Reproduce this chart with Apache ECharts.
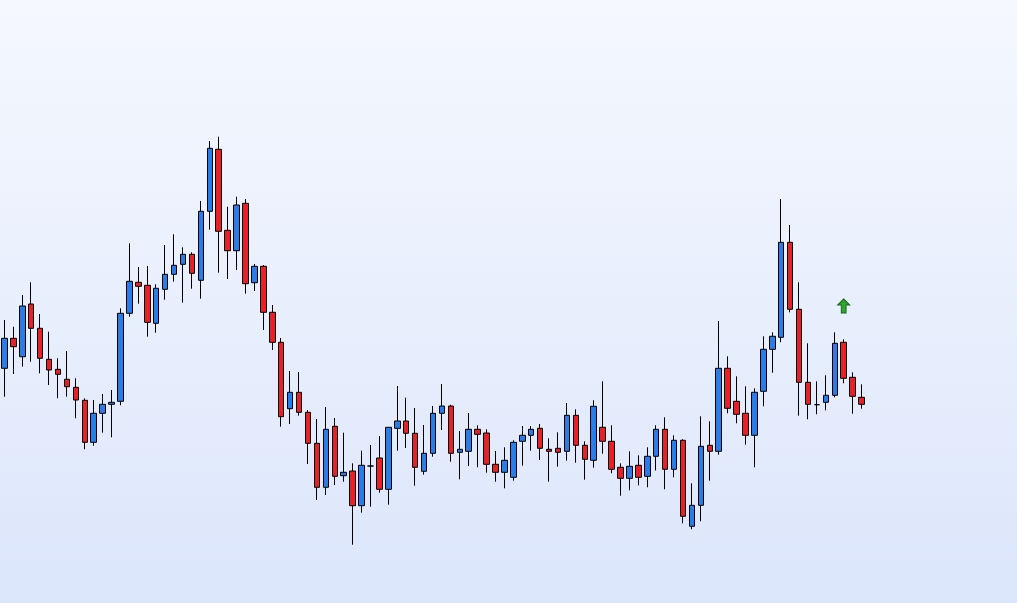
<!DOCTYPE html>
<html>
<head>
<meta charset="utf-8">
<script src="https://cdn.jsdelivr.net/npm/echarts@6/dist/echarts.min.js"></script>
<style>
html,body{margin:0;padding:0;width:1017px;height:603px;overflow:hidden;}
#chart{width:1017px;height:603px;}
</style>
</head>
<body>
<div id="chart"></div>
<script>
// [open, close, low, high]
const candles = [
[1.19317,1.19617,1.19033,1.19800],
[1.19617,1.19533,1.19260,1.19733],
[1.19433,1.19940,1.19333,1.20050],
[1.19960,1.19717,1.19383,1.20177],
[1.19717,1.19417,1.19267,1.19860],
[1.19407,1.19300,1.19150,1.19683],
[1.19307,1.19257,1.19017,1.19417],
[1.19207,1.19133,1.19033,1.19490],
[1.19127,1.19000,1.18817,1.19217],
[1.18997,1.18577,1.18507,1.19017],
[1.18577,1.18867,1.18543,1.19000],
[1.18867,1.18957,1.18673,1.19060],
[1.18957,1.18977,1.18627,1.19100],
[1.18987,1.19867,1.18947,1.19917],
[1.19867,1.20187,1.19833,1.20567],
[1.20177,1.20137,1.19963,1.20330],
[1.20147,1.19777,1.19633,1.20340],
[1.19767,1.20117,1.19673,1.20157],
[1.20107,1.20257,1.20003,1.20550],
[1.20257,1.20347,1.20183,1.20657],
[1.20357,1.20457,1.19973,1.20527],
[1.20457,1.20267,1.20113,1.20477],
[1.20197,1.20887,1.20013,1.20990],
[1.20887,1.21517,1.20703,1.21590],
[1.21507,1.20687,1.20273,1.21633],
[1.20697,1.20493,1.20210,1.20933],
[1.20493,1.20950,1.20300,1.21033],
[1.20967,1.20163,1.20063,1.21010],
[1.20173,1.20337,1.20090,1.20360],
[1.20337,1.19877,1.19700,1.20350],
[1.19877,1.19577,1.19500,1.19950],
[1.19577,1.18833,1.18733,1.19620],
[1.18913,1.19077,1.18760,1.19290],
[1.19077,1.18877,1.18843,1.19280],
[1.18877,1.18567,1.18360,1.18900],
[1.18567,1.18127,1.18000,1.18810],
[1.18127,1.18707,1.18050,1.18930],
[1.18737,1.18237,1.18150,1.18820],
[1.18243,1.18277,1.18183,1.18673],
[1.18290,1.17943,1.17553,1.18367],
[1.17943,1.18347,1.17873,1.18493],
[1.18340,1.18340,1.17933,1.18550],
[1.18420,1.18107,1.18073,1.18640],
[1.18107,1.18727,1.17953,1.18727],
[1.18717,1.18790,1.18493,1.19140],
[1.18790,1.18667,1.18520,1.19023],
[1.18667,1.18327,1.18143,1.18920],
[1.18287,1.18467,1.18253,1.18750],
[1.18467,1.18867,1.18433,1.18940],
[1.18867,1.18940,1.18700,1.19160],
[1.18940,1.18467,1.18383,1.18953],
[1.18477,1.18507,1.18207,1.18690],
[1.18487,1.18707,1.18340,1.18870],
[1.18707,1.18657,1.18327,1.18747],
[1.18670,1.18357,1.18273,1.18707],
[1.18357,1.18277,1.18183,1.18490],
[1.18277,1.18397,1.18117,1.18527],
[1.18227,1.18577,1.18193,1.18597],
[1.18587,1.18647,1.18343,1.18740],
[1.18647,1.18707,1.18493,1.18740],
[1.18717,1.18517,1.18400,1.18760],
[1.18507,1.18487,1.18183,1.18617],
[1.18517,1.18477,1.18333,1.18677],
[1.18487,1.18847,1.18393,1.18970],
[1.18847,1.18547,1.18373,1.18907],
[1.18547,1.18407,1.18203,1.18587],
[1.18397,1.18937,1.18323,1.18997],
[1.18727,1.18587,1.18463,1.19187],
[1.18587,1.18307,1.18267,1.18747],
[1.18327,1.18217,1.18043,1.18367],
[1.18217,1.18337,1.18097,1.18487],
[1.18347,1.18227,1.18147,1.18447],
[1.18237,1.18437,1.18127,1.18527],
[1.18437,1.18707,1.18295,1.18747],
[1.18707,1.18307,1.18107,1.18827],
[1.18307,1.18597,1.18227,1.18647],
[1.18597,1.17837,1.17767,1.18607],
[1.17737,1.17947,1.17707,1.18167],
[1.17947,1.18537,1.17787,1.18837],
[1.18547,1.18487,1.18193,1.18787],
[1.18487,1.19317,1.18453,1.19790],
[1.19317,1.18917,1.18867,1.19437],
[1.18987,1.18857,1.18767,1.19237],
[1.18867,1.18647,1.18553,1.19137],
[1.18647,1.19077,1.18327,1.19117],
[1.19087,1.19507,1.18937,1.19637],
[1.19507,1.19637,1.19273,1.19677],
[1.19627,1.20577,1.19577,1.21010],
[1.20577,1.19907,1.19877,1.20750],
[1.19907,1.19177,1.18843,1.20177],
[1.19177,1.18957,1.18807,1.19567],
[1.18953,1.18953,1.18857,1.19187],
[1.18977,1.19047,1.18897,1.19247],
[1.19047,1.19567,1.19027,1.19677],
[1.19577,1.19217,1.19167,1.19607],
[1.19227,1.19037,1.18863,1.19277],
[1.19027,1.18957,1.18913,1.19157]
];
const categories = candles.map((_, i) => 'Bar ' + (i + 1));
// signal marker: [category index, price]
const signals = [[94, 1.19940]];

const chart = echarts.init(document.getElementById('chart'), null, {renderer: 'canvas'});
const arrowPath = 'path://M5,0 L10,6 L7,6 L7,14 L3,14 L3,6 L0,6 Z';
chart.setOption({
  animation: false,
  backgroundColor: {
    type: 'linear', x: 0, y: 0, x2: 0, y2: 1,
    colorStops: [{offset: 0, color: '#f5f8fe'}, {offset: 1, color: '#dce6fb'}]
  },
  grid: {left: 0, top: 0, width: 866, height: 603},
  xAxis: {type: 'category', data: categories, show: false, boundaryGap: true},
  yAxis: {type: 'value', min: 1.1697, max: 1.2300, show: false},
  series: [
    {
      type: 'candlestick',
      data: candles,
      barWidth: 6,
      itemStyle: {
        color: '#2a7de8',
        color0: '#e82128',
        borderColor: '#000000',
        borderColor0: '#000000',
        borderColorDoji: '#000000',
        borderWidth: 1
      }
    },
    {
      type: 'scatter',
      data: signals,
      symbol: arrowPath,
      symbolSize: [12, 14],
      itemStyle: {color: '#2fa72f', borderColor: '#1a651a', borderWidth: 1, opacity: 1},
      z: 5
    }
  ]
});
</script>
</body>
</html>
